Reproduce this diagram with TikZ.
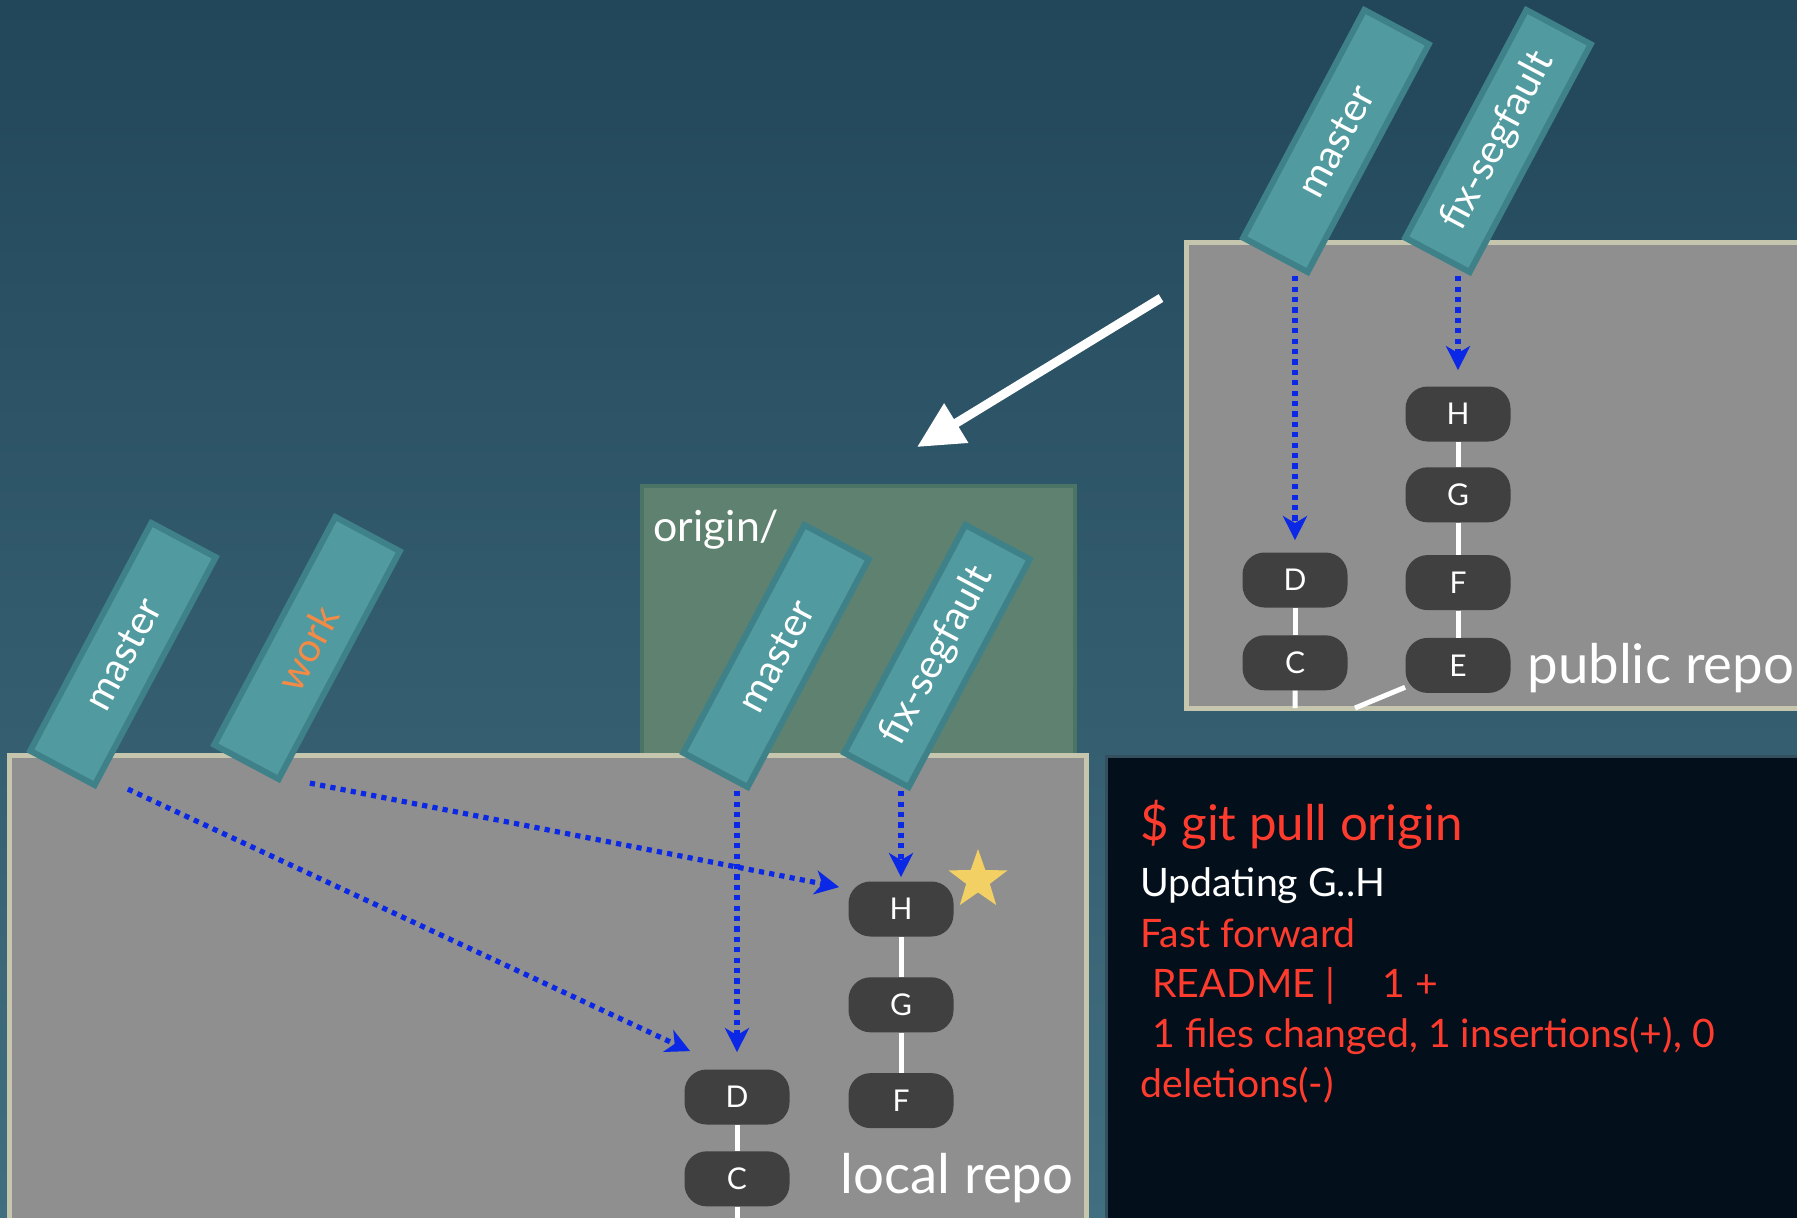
\documentclass[tikz,border=0pt]{standalone}
\usepackage{fontspec}
\setmainfont{Lato}
\newfontfamily\termfont{Lato}
\usetikzlibrary{arrows.meta,positioning,shapes.geometric}
\definecolor{bgtop}{HTML}{22465A}
\definecolor{bgbot}{HTML}{416F7F}
\definecolor{repogray}{HTML}{8F8F8F}
\definecolor{repoedge}{HTML}{C6C5AE}
\definecolor{origfill}{HTML}{5E8170}
\definecolor{origedge}{HTML}{4B7366}
\definecolor{commitfill}{HTML}{404040}
\definecolor{tagfill}{HTML}{519A9F}
\definecolor{tagedge}{HTML}{3F8189}
\definecolor{refblue}{HTML}{0A28E6}
\definecolor{termbg}{HTML}{03101B}
\definecolor{termedge}{HTML}{34505F}
\definecolor{termred}{HTML}{FF3B2E}
\definecolor{workorange}{HTML}{F38A45}
\definecolor{stargold}{HTML}{F3D064}
\begin{document}
\begin{tikzpicture}[x=0.5pt,y=-0.5pt,
commit/.style={fill=commitfill,rounded corners=11pt,minimum width=52.5pt,
  minimum height=27.5pt,inner sep=0pt,text=white,font=\fontsize{15pt}{15pt}\selectfont},
tag/.style={fill=tagfill,draw=tagedge,line width=3pt,rotate=62,minimum width=129pt,
  minimum height=36.5pt,inner sep=0pt,text=white,font=\fontsize{20pt}{20pt}\selectfont},
repo/.style={fill=repogray,draw=repoedge,line width=2.5pt},
edge/.style={draw=white,line width=2.5pt},
ref/.style={draw=refblue,line width=2.6pt,dash pattern=on 2.6pt off 2.6pt,
  -{Stealth[length=12pt,width=12pt,inset=3.5pt]}},
fetch/.style={draw=white,line width=4.5pt,-{Triangle[length=23pt,width=22pt]}},
place/.style={text=white,font=\fontsize{27.3pt}{27.3pt}\selectfont,inner sep=0pt,anchor=west},
term/.style={anchor=base west,inner sep=0pt,text=termred,
  font=\termfont\fontsize{19.6pt}{19.6pt}\selectfont}]
\useasboundingbox (0,0) rectangle (1797,1217);
\clip (0,0) rectangle (1797,1217);
\shade[top color=bgtop,bottom color=bgbot] (0,0) rectangle (1797,1217);
% repositories
\draw[repo] (1186,242) rectangle (1830,708);
\draw[fill=origfill,draw=origedge,line width=2pt] (642,486) rectangle (1075,755);
\draw[repo] (9,755) rectangle (1086,1250);
\draw[fill=termbg,draw=termedge,line width=1.5pt] (1106,756) rectangle (1830,1250);
% public repo commits
\node[commit] (pH) at (1458,414) {H};
\node[commit,below=12.5pt of pH] (pG) {G};
\node[commit,below=16pt of pG] (pF) {F};
\node[commit,below=13.5pt of pF] (pE) {E};
\node[commit] (pD) at (1295,580) {D};
\node[commit,below=13.5pt of pD] (pC) {C};
\coordinate (pCtail) at (1295,708);
\coordinate (pEtail) at (1355,708);
\draw[edge] (pH)--(pG) (pG)--(pF) (pF)--(pE) (pD)--(pC);
\draw[edge] (pC)--(pCtail) (pE)--(pEtail);
% local repo commits
\node[commit] (lH) at (901,909) {H};
\node[commit,below=20pt of lH] (lG) {G};
\node[commit,below=20pt of lG] (lF) {F};
\node[commit] (lD) at (737,1097) {D};
\node[commit,below=13pt of lD] (lC) {C};
\coordinate (lCtail) at (737,1240);
\draw[edge] (lH)--(lG) (lG)--(lF) (lD)--(lC) (lC)--(lCtail);
\node[star,star points=5,star point ratio=2.5,fill=stargold,minimum size=31pt,
  inner sep=0pt] (hstar) at (978,880) {};
% branch labels
\node[tag] (pmaster) at (1336,141) {master};
\node[tag] (pfix) at (1498,141) {fix-segfault};
\node[tag] (omaster) at (776,656) {master};
\node[tag] (ofix) at (937,656) {fix-segfault};
\node[tag] (lmaster) at (123,654) {master};
\node[tag,text=workorange] (lwork) at (307,648) {work};
\draw[ref,shorten >=6pt] (pD |- pmaster.south west) -- (pD);
\draw[ref,shorten >=8pt] (pH |- pfix.south west) -- (pH);
\draw[ref,shorten >=8.5pt] (lD |- omaster.south west) -- (lD);
\draw[ref,shorten >=2pt] (lH |- ofix.south west) -- (lH);
\draw[ref] ([xshift=16pt]lmaster.south west) -- ([xshift=3pt,yshift=9pt]lD.north west);
\draw[ref] ([xshift=15pt]lwork.south west) -- ([xshift=-4.5pt,yshift=-3pt]lH.north west);
% fetch
\coordinate (fetchfrom) at (1161,298);
\coordinate (fetchto) at (917,447);
\draw[fetch] (fetchfrom) -- (fetchto);
\node[place] (publbl) at (1527,668) {public repo};
\node[place] (loclbl) at (840,1178) {local repo};
\node[place,font=\fontsize{21.4pt}{21.4pt}\selectfont] (origlbl) at (653,530) {origin/};
% terminal
\node[term,font=\termfont\fontsize{24.6pt}{24.6pt}\selectfont] (t1) at (1140,840) {\$ git pull origin};
\node[term,text=white] (t2) at (1140,896) {Updating G..H};
\node[term] (t3) at (1140,947) {Fast forward};
\node[term] (t4) at (1140,997) {\hspace*{6pt}README |\hspace*{24pt}1 +};
\node[term] (t5) at (1140,1047) {\hspace*{6pt}1 files changed, 1 insertions(+), 0};
\node[term] (t6) at (1140,1097) {deletions(-)};
\end{tikzpicture}
\end{document}
